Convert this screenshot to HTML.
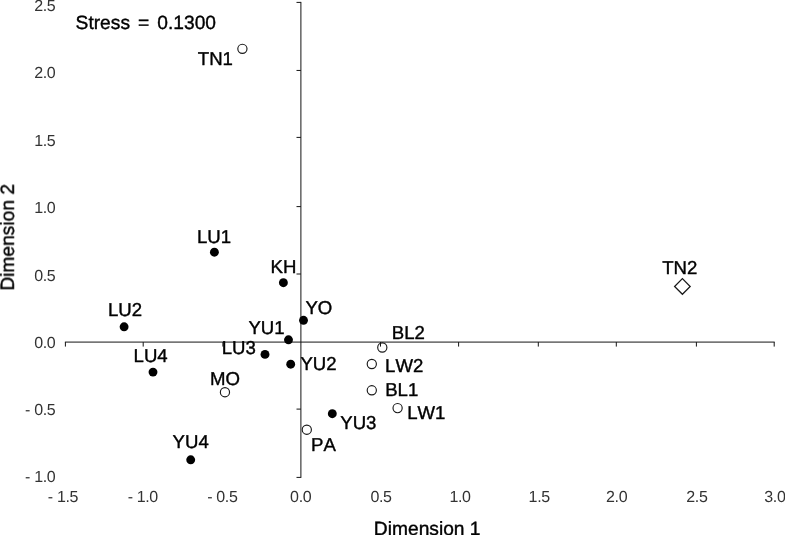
<!DOCTYPE html>
<html><head><meta charset="utf-8"><title>MDS ordination plot</title>
<style>
html,body{margin:0;padding:0;background:#fff;}
body{width:785px;height:535px;overflow:hidden;}
svg{display:block;font-kerning:none;text-rendering:geometricPrecision;font-family:"Liberation Sans",sans-serif;}
</style></head><body>
<svg width="785" height="535" viewBox="0 0 785 535">
<rect width="785" height="535" fill="#fff"/>
<g opacity="0.999">
<g stroke="#141414" stroke-width="1" fill="none">
<line x1="300.9" y1="1.9" x2="300.9" y2="477.9"/>
<line x1="64.9" y1="342.08" x2="774.7" y2="342.08"/>
<line x1="65.40" y1="342.08" x2="65.40" y2="346.58"/>
<line x1="143.20" y1="342.08" x2="143.20" y2="346.58"/>
<line x1="222.90" y1="342.08" x2="222.90" y2="346.58"/>
<line x1="380.50" y1="342.08" x2="380.50" y2="346.58"/>
<line x1="458.60" y1="342.08" x2="458.60" y2="346.58"/>
<line x1="538.30" y1="342.08" x2="538.30" y2="346.58"/>
<line x1="616.30" y1="342.08" x2="616.30" y2="346.58"/>
<line x1="696.40" y1="342.08" x2="696.40" y2="346.58"/>
<line x1="774.20" y1="342.08" x2="774.20" y2="346.58"/>
<line x1="296.50" y1="477.40" x2="300.9" y2="477.40"/>
<line x1="296.50" y1="409.10" x2="300.9" y2="409.10"/>
<line x1="296.50" y1="274.00" x2="300.9" y2="274.00"/>
<line x1="296.50" y1="206.60" x2="300.9" y2="206.60"/>
<line x1="296.50" y1="137.40" x2="300.9" y2="137.40"/>
<line x1="296.50" y1="70.45" x2="300.9" y2="70.45"/>
<line x1="296.50" y1="2.40" x2="300.9" y2="2.40"/>
</g>
<g font-size="16.0" fill="#333" letter-spacing="-0.35">
<text x="55.4" y="482" text-anchor="end">- 1.0</text>
<text x="55.4" y="415" text-anchor="end">- 0.5</text>
<text x="55.4" y="348" text-anchor="end">0.0</text>
<text x="55.4" y="281" text-anchor="end">0.5</text>
<text x="55.4" y="213" text-anchor="end">1.0</text>
<text x="55.4" y="146" text-anchor="end">1.5</text>
<text x="55.4" y="78" text-anchor="end">2.0</text>
<text x="55.4" y="11" text-anchor="end">2.5</text>
<text x="63.0" y="502" text-anchor="middle">- 1.5</text>
<text x="142.8" y="502" text-anchor="middle">- 1.0</text>
<text x="222.4" y="502" text-anchor="middle">- 0.5</text>
<text x="300.7" y="502" text-anchor="middle">0.0</text>
<text x="381.0" y="502" text-anchor="middle">0.5</text>
<text x="460.0" y="502" text-anchor="middle">1.0</text>
<text x="539.2" y="502" text-anchor="middle">1.5</text>
<text x="616.6" y="502" text-anchor="middle">2.0</text>
<text x="696.9" y="502" text-anchor="middle">2.5</text>
<text x="774.9" y="502" text-anchor="middle">3.0</text>
</g>
<g font-size="19.2" fill="#000" stroke="#000" stroke-width="0.4" stroke-linejoin="round">
<text x="427.2" y="535.2" text-anchor="middle">Dimension 1</text>
<text transform="translate(13.9,237.4) rotate(-90)" text-anchor="middle">Dimension 2</text>
<text x="75.6" y="29.3" word-spacing="2.75">Stress = 0.1300</text>
</g>
<g>
<circle cx="242.4" cy="48.8" r="4.6" fill="none" stroke="#1a1a1a" stroke-width="1.15"/>
<circle cx="214.4" cy="252.2" r="4.45" fill="#000"/>
<circle cx="283.4" cy="282.7" r="4.45" fill="#000"/>
<circle cx="303.5" cy="320.3" r="4.45" fill="#000"/>
<circle cx="288.5" cy="339.8" r="4.45" fill="#000"/>
<circle cx="265.0" cy="354.4" r="4.45" fill="#000"/>
<circle cx="290.7" cy="364.2" r="4.45" fill="#000"/>
<circle cx="124.1" cy="326.8" r="4.45" fill="#000"/>
<circle cx="153.0" cy="372.1" r="4.45" fill="#000"/>
<circle cx="224.95" cy="392.2" r="4.6" fill="none" stroke="#1a1a1a" stroke-width="1.15"/>
<circle cx="190.7" cy="459.8" r="4.45" fill="#000"/>
<circle cx="332.3" cy="413.7" r="4.45" fill="#000"/>
<circle cx="306.8" cy="429.7" r="4.6" fill="none" stroke="#1a1a1a" stroke-width="1.15"/>
<circle cx="382.3" cy="347.5" r="4.6" fill="none" stroke="#1a1a1a" stroke-width="1.15"/>
<circle cx="371.8" cy="364.0" r="4.6" fill="none" stroke="#1a1a1a" stroke-width="1.15"/>
<circle cx="371.8" cy="390.3" r="4.6" fill="none" stroke="#1a1a1a" stroke-width="1.15"/>
<circle cx="397.6" cy="408.1" r="4.6" fill="none" stroke="#1a1a1a" stroke-width="1.15"/>
<path d="M674.60 286.45L682.4 278.65L690.20 286.45L682.4 294.25Z" fill="none" stroke="#1a1a1a" stroke-width="1.25"/>
</g>
<g font-size="18.6" fill="#000" stroke="#000" stroke-width="0.4" stroke-linejoin="round">
<text x="197.80" y="64.8">TN1</text>
<text x="197.00" y="242.8">LU1</text>
<text x="270.55" y="273.2">KH</text>
<text x="305.45" y="313.7">YO</text>
<text x="248.40" y="334">YU1</text>
<text x="221.70" y="354.4">LU3</text>
<text x="300.40" y="369.6">YU2</text>
<text x="107.92" y="316.0">LU2</text>
<text x="133.60" y="362.0">LU4</text>
<text x="209.90" y="385">MO</text>
<text x="172.60" y="448.0">YU4</text>
<text x="340.25" y="429">YU3</text>
<text x="311.10" y="450.6">PA</text>
<text x="391.80" y="338.7">BL2</text>
<text x="385.10" y="371.6">LW2</text>
<text x="385.20" y="396.0">BL1</text>
<text x="407.20" y="419.3">LW1</text>
<text x="662.20" y="273.6">TN2</text>
</g>
</g>
</svg>
</body></html>
